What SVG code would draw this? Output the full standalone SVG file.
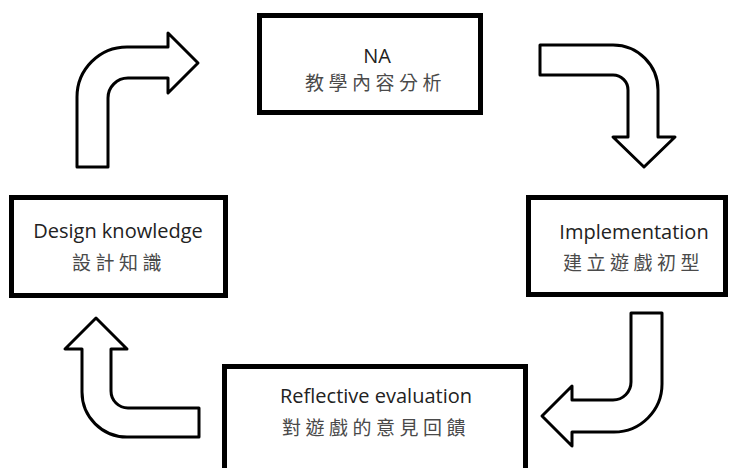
<svg xmlns="http://www.w3.org/2000/svg" width="731" height="468" viewBox="0 0 731 468">
<style>
.box{fill:#fff;stroke:#000;stroke-width:5}
.arr{fill:#fff;stroke:#000;stroke-width:3;stroke-linejoin:round}
.en{font-family:"Open Sans","Liberation Sans",sans-serif;font-size:20px;fill:#222;text-anchor:middle}
.zh{font-family:"Noto Sans CJK TC","Noto Sans CJK SC",sans-serif;font-size:19px;fill:#4a4a4a;letter-spacing:4.5px}
</style>
<rect width="731" height="468" fill="#fff"/>
<g id="connectors">
<path class="arr" d="M77,167 L77,97 A50,50 0 0 1 127,47 L168,47 L168,33 L198,63 L168,93 L168,78 L128,78 A20,20 0 0 0 108,98 L108,167 Z"/>
<path class="arr" d="M540,45 L613,45 A45,45 0 0 1 658,90 L658,137 L675,137 L644,167 L613,137 L628,137 L628,90 A15,15 0 0 0 613,75 L540,75 Z"/>
<path class="arr" d="M631,313 L662,313 L662,384 A48,48 0 0 1 614,432 L572,432 L572,446 L542,416 L572,386 L572,400 L613,400 A18,18 0 0 0 631,382 Z"/>
<path class="arr" d="M199,408 L128,408 A17,17 0 0 1 111,391 L111,349 L127,349 L96,318 L65,349 L82,349 L82,392 A45,45 0 0 0 127,437 L199,437 Z"/>
</g>
<g id="na">
<rect class="box" x="259.5" y="15.5" width="221" height="97"/>
<text class="en" x="377" y="63">NA</text>
<text class="zh" x="305" y="90">教學內容分析</text>
</g>
<g id="design">
<rect class="box" x="11.5" y="197.5" width="214" height="98"/>
<text class="en" x="118" y="238">Design knowledge</text>
<text class="zh" x="72" y="270">設計知識</text>
</g>
<g id="implementation">
<rect class="box" x="528.5" y="197.5" width="197" height="97"/>
<text class="en" x="634" y="239">Implementation</text>
<text class="zh" x="563" y="270">建立遊戲初型</text>
</g>
<g id="reflective">
<rect class="box" x="224.5" y="366.5" width="301" height="120"/>
<text class="en" x="376" y="403">Reflective evaluation</text>
<text class="zh" x="282" y="435">對遊戲的意見回饋</text>
</g>
</svg>
